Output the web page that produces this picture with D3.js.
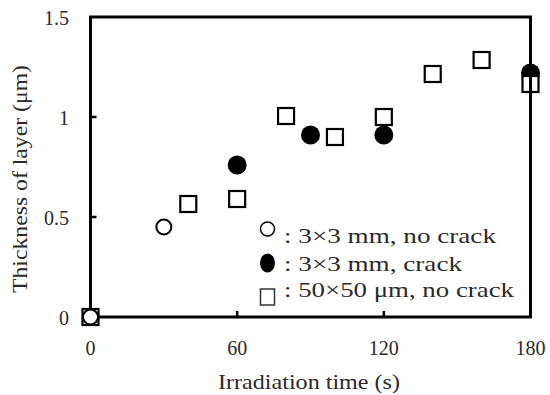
<!DOCTYPE html>
<html>
<head>
<meta charset="utf-8">
<script src="https://cdn.jsdelivr.net/npm/d3@7"></script>
<style>
  body { margin: 0; background: #fff; }
  text { font-family: "Liberation Serif", "Times New Roman", Times, serif; fill: #2a2a2a; }
</style>
</head>
<body>
<svg id="chart" width="550" height="395"></svg>
<script>
// data
const openX = [0, 30];
const openY = [0, 0.45];
const filledX = [60, 90, 120, 180];
const filledY = [0.76, 0.91, 0.91, 1.22];
const squareX = [0, 40, 60, 80, 100, 120, 140, 160, 180];
const squareY = [0, 0.565, 0.59, 1.005, 0.90, 1.0, 1.215, 1.285, 1.165];

const xTicks = [0, 60, 120, 180];
const yTicks = [0, 0.5, 1, 1.5];
const yTickLabels = ["0", "0.5", "1", "1.5"];
const legendLabels = [": 3\u00d73 mm, no crack", ": 3\u00d73 mm, crack", ": 50\u00d750 \u03bcm, no crack"];

const svg = d3.select("#chart");
const x = d3.scaleLinear().domain([0, 180]).range([90.5, 530.5]);
const y = d3.scaleLinear().domain([0, 1.5]).range([317, 17]);

const zip = (xs, ys) => xs.map((v, i) => ({x: v, y: ys[i]}));

// filled circles first, squares on top of them
svg.append("g").selectAll("circle")
  .data(zip(filledX, filledY))
  .join("circle")
    .attr("cx", d => x(d.x))
    .attr("cy", d => y(d.y))
    .attr("r", 9.5)
    .attr("fill", "#000");

svg.append("g").selectAll("rect")
  .data(zip(squareX, squareY))
  .join("rect")
    .attr("x", d => x(d.x) - 8)
    .attr("y", d => y(d.y) - 8)
    .attr("width", 16)
    .attr("height", 16)
    .attr("fill", "#fff")
    .attr("stroke", "#000")
    .attr("stroke-width", 2.2);

// frame
const frame = svg.append("g").attr("fill", "none").attr("stroke", "#000");
frame.append("rect")
  .attr("x", x(0)).attr("y", y(1.5))
  .attr("width", x(180) - x(0)).attr("height", y(0) - y(1.5))
  .attr("stroke-width", 3);

// inward ticks
frame.selectAll("line.xt")
  .data(xTicks.slice(1, -1))
  .join("line")
    .attr("class", "xt")
    .attr("x1", d => x(d)).attr("x2", d => x(d))
    .attr("y1", y(0)).attr("y2", y(0) - 6)
    .attr("stroke-width", 2.5);
frame.selectAll("line.yt")
  .data(yTicks.slice(1, -1))
  .join("line")
    .attr("class", "yt")
    .attr("x1", x(0)).attr("x2", x(0) + 6)
    .attr("y1", d => y(d)).attr("y2", d => y(d))
    .attr("stroke-width", 2.5);

// open circles on top
svg.append("g").selectAll("circle")
  .data(zip(openX, openY))
  .join("circle")
    .attr("cx", d => x(d.x))
    .attr("cy", d => y(d.y))
    .attr("r", 7.5)
    .attr("fill", "#fff")
    .attr("stroke", "#000")
    .attr("stroke-width", 2);

// tick labels
svg.append("g").selectAll("text")
  .data(xTicks)
  .join("text")
    .attr("x", d => x(d))
    .attr("y", 355)
    .attr("text-anchor", "middle")
    .attr("font-size", 20)
    .text(d => d);

svg.append("g").selectAll("text")
  .data(yTicks)
  .join("text")
    .attr("x", 69)
    .attr("y", d => y(d) + 8)
    .attr("text-anchor", "end")
    .attr("font-size", 20)
    .text((d, i) => yTickLabels[i]);

// axis titles
svg.append("text")
  .attr("x", 309).attr("y", 389)
  .attr("text-anchor", "middle")
  .attr("font-size", 21)
  .attr("textLength", 182).attr("lengthAdjust", "spacingAndGlyphs")
  .text("Irradiation  time (s)");

svg.append("text")
  .attr("transform", "translate(27,179) rotate(-90)")
  .attr("text-anchor", "middle")
  .attr("font-size", 21)
  .attr("textLength", 228).attr("lengthAdjust", "spacingAndGlyphs")
  .text("Thickness of layer  (\u03bcm)");

// legend
const legendRows = [229, 263, 297];
const legendBaselines = [243, 271, 297];
const legendWidths = [212, 178, 230];
const lg = svg.append("g");
lg.append("circle").attr("cx", 267.5).attr("cy", legendRows[0]).attr("r", 7)
  .attr("fill", "#fff").attr("stroke", "#000").attr("stroke-width", 1.5);
lg.append("ellipse").attr("cx", 267.5).attr("cy", legendRows[1]).attr("rx", 7.5).attr("ry", 9.5)
  .attr("fill", "#000");
lg.append("rect").attr("x", 260.5).attr("y", legendRows[2] - 8).attr("width", 14).attr("height", 16)
  .attr("fill", "#fff").attr("stroke", "#333").attr("stroke-width", 1.5);
lg.selectAll("text")
  .data(legendLabels)
  .join("text")
    .attr("x", 284)
    .attr("y", (d, i) => legendBaselines[i])
    .attr("font-size", 21)
    .attr("textLength", (d, i) => legendWidths[i])
    .attr("lengthAdjust", "spacingAndGlyphs")
    .text(d => d);
</script>
</body>
</html>
